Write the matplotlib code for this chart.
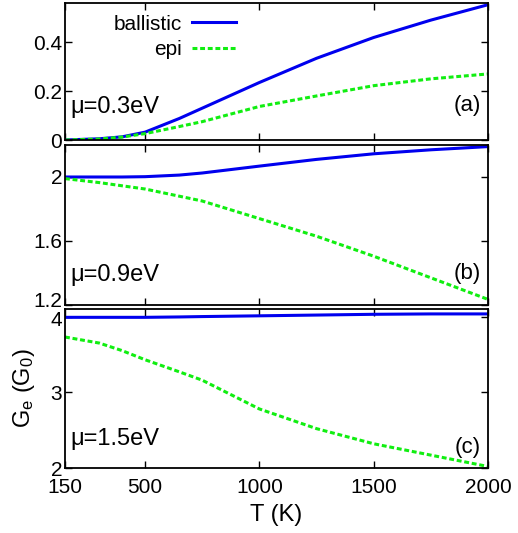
import matplotlib
matplotlib.use('Agg')
import matplotlib.pyplot as plt
import matplotlib.transforms as mtransforms

plt.rcParams['font.family'] = ['Liberation Sans', 'DejaVu Sans']
plt.rcParams['mathtext.default'] = 'regular'
plt.rcParams['font.size'] = 15

# temperaturas (K)
T = [150, 300, 400, 500, 650, 750, 1000, 1250, 1500, 1750, 2000]

# painel (a) mu = 0.3 eV
bal_a = [0.0, 0.005, 0.013, 0.032, 0.088, 0.13, 0.235, 0.334, 0.419, 0.49, 0.553]
epi_a = [0.0, 0.004, 0.012, 0.026, 0.055, 0.075, 0.137, 0.18, 0.222, 0.25, 0.27]

# painel (b) mu = 0.9 eV
bal_b = [2.0, 2.0, 2.0, 2.002, 2.012, 2.025, 2.068, 2.11, 2.145, 2.17, 2.19]
epi_b = [1.99, 1.965, 1.945, 1.925, 1.88, 1.85, 1.74, 1.63, 1.505, 1.37, 1.235]

# painel (c) mu = 1.5 eV
bal_c = [3.99, 3.99, 3.99, 3.99, 3.995, 4.0, 4.01, 4.02, 4.03, 4.035, 4.035]
epi_c = [3.73, 3.65, 3.55, 3.43, 3.27, 3.16, 2.78, 2.52, 2.32, 2.17, 2.02]

mus = ['μ=0.3eV', 'μ=0.9eV', 'μ=1.5eV']
tags = ['(a)', '(b)', '(c)']
ylims = [(0, 0.56), (1.2, 2.2), (2, 4.1)]
yticks = [[0, 0.2, 0.4], [1.2, 1.6, 2.0], [2, 3, 4]]
ytlabels = [['0', '0.2', '0.4'], ['1.2', '1.6', '2'], ['2', '3', '4']]
xticks = [150, 500, 1000, 1500, 2000]

W, H = 518, 533
fig = plt.figure(figsize=(W / 100, H / 100), dpi=100)
left, right = 65, 488
boxes = [(3, 140), (145, 305), (309, 468)]
axs = []
for top, bot in boxes:
    ax = fig.add_axes([left / W, (H - bot) / H, (right - left) / W, (bot - top) / H])
    axs.append(ax)

azul = '#0000ee'
verde = '#11ee11'
dados = [(bal_a, epi_a), (bal_b, epi_b), (bal_c, epi_c)]
text_y = [0.24, 0.19, 0.18]
tag_y = [0.25, 0.195, 0.13]

for i, ax in enumerate(axs):
    bal, epi = dados[i]
    ax.plot(T, bal, color=azul, lw=2.2, label='ballistic')
    ax.plot(T, epi, color=verde, lw=2.2, ls=(0, (1.6, 0.9)), label='epi')
    ax.set_xlim(150, 2000)
    ax.set_ylim(*ylims[i])
    ax.set_xticks(xticks)
    ax.set_yticks(yticks[i])
    ax.set_yticklabels(ytlabels[i])
    ax.tick_params(direction='in', length=5, width=1, top=True, right=True, labelsize=15)
    ax.tick_params(axis='y', pad=2)
    ax.tick_params(axis='x', pad=7)
    for s in ax.spines.values():
        s.set_linewidth(1.3)
    if i < 2:
        ax.set_xticklabels([])
    ax.text(0.012, text_y[i], mus[i], transform=ax.transAxes, va='center', ha='left', fontsize=17)
    ax.text(0.983, tag_y[i], tags[i], transform=ax.transAxes, va='center', ha='right', fontsize=16)

# rótulos na junção dos painéis (b)/(c) levemente afastados, como no original
lab = axs[1].get_yticklabels()[0]
lab.set_transform(lab.get_transform() + mtransforms.ScaledTranslation(0, 4 / 72, fig.dpi_scale_trans))
lab = axs[2].get_yticklabels()[-1]
lab.set_transform(lab.get_transform() + mtransforms.ScaledTranslation(0, -1.5 / 72, fig.dpi_scale_trans))

axs[0].legend(loc='upper right', bbox_to_anchor=(0.404, 0.915), frameon=False,
              markerfirst=False, handlelength=2.1, labelspacing=0.3,
              borderpad=0, borderaxespad=0, handletextpad=0.5, fontsize=15)

axs[2].set_xlabel('T (K)', labelpad=5, fontsize=17)
axs[2].set_ylabel('G$_e$ (G$_0$)', labelpad=10, fontsize=17)

plt.savefig('out.png', dpi=100)
